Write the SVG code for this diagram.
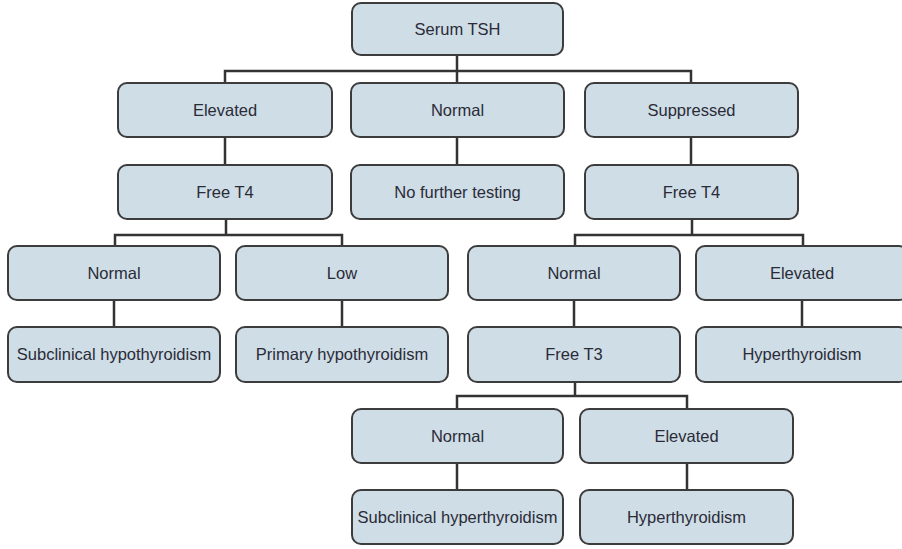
<svg xmlns="http://www.w3.org/2000/svg" width="902" height="549" viewBox="0 0 902 549">
<style>
.box{fill:#cedde6;stroke:#3c3c3c;stroke-width:2}
.lbl{font-family:"Liberation Sans",Arial,sans-serif;font-size:16.5px;fill:#2b2b38;text-anchor:middle}
.con{fill:none;stroke:#333;stroke-width:2.5}
</style>
<rect width="902" height="549" fill="#fff"/>
<g id="connectors">
<path class="con" d="M457,55V71M225,83V71H691V83M457,71V83"/>
<path class="con" d="M225,137V165M457,137V165M691,137V165"/>
<path class="con" d="M226,219V235M115,246V235H342V246"/>
<path class="con" d="M692,219V235M575,246V235H803V246"/>
<path class="con" d="M114,300V327M342,300V327M574,300V327M802,300V327"/>
<path class="con" d="M575,382V396M457,409V396H687V409"/>
<path class="con" d="M457,463V490M687,463V490"/>
</g>
<g id="n-tsh"><rect class="box" x="352" y="3" width="211" height="52" rx="9"/><text class="lbl" x="457.5" y="35">Serum TSH</text></g>
<g id="n-elev1"><rect class="box" x="118" y="83" width="214" height="54" rx="9"/><text class="lbl" x="225" y="116">Elevated</text></g>
<g id="n-norm1"><rect class="box" x="351" y="83" width="213" height="54" rx="9"/><text class="lbl" x="457.5" y="116">Normal</text></g>
<g id="n-supp1"><rect class="box" x="585" y="83" width="213" height="54" rx="9"/><text class="lbl" x="691.5" y="116">Suppressed</text></g>
<g id="n-ft4a"><rect class="box" x="118" y="165" width="214" height="54" rx="9"/><text class="lbl" x="225" y="198">Free T4</text></g>
<g id="n-nofurther"><rect class="box" x="351" y="165" width="213" height="54" rx="9"/><text class="lbl" x="457.5" y="198">No further testing</text></g>
<g id="n-ft4b"><rect class="box" x="585" y="165" width="213" height="54" rx="9"/><text class="lbl" x="691.5" y="198">Free T4</text></g>
<g id="n-norm2"><rect class="box" x="8" y="246" width="212" height="54" rx="9"/><text class="lbl" x="114" y="279">Normal</text></g>
<g id="n-low"><rect class="box" x="236" y="246" width="212" height="54" rx="9"/><text class="lbl" x="342" y="279">Low</text></g>
<g id="n-norm3"><rect class="box" x="468" y="246" width="212" height="54" rx="9"/><text class="lbl" x="574" y="279">Normal</text></g>
<g id="n-elev3"><rect class="box" x="696" y="246" width="212" height="54" rx="9"/><text class="lbl" x="802" y="279">Elevated</text></g>
<g id="n-subhypo"><rect class="box" x="8" y="327" width="212" height="55" rx="9"/><text class="lbl" x="114" y="360">Subclinical hypothyroidism</text></g>
<g id="n-primhypo"><rect class="box" x="236" y="327" width="212" height="55" rx="9"/><text class="lbl" x="342" y="360">Primary hypothyroidism</text></g>
<g id="n-ft3"><rect class="box" x="468" y="327" width="212" height="55" rx="9"/><text class="lbl" x="574" y="360">Free T3</text></g>
<g id="n-hyper1"><rect class="box" x="696" y="327" width="212" height="55" rx="9"/><text class="lbl" x="802" y="360">Hyperthyroidism</text></g>
<g id="n-norm4"><rect class="box" x="352" y="409" width="211" height="54" rx="9"/><text class="lbl" x="457.5" y="442">Normal</text></g>
<g id="n-elev4"><rect class="box" x="580" y="409" width="213" height="54" rx="9"/><text class="lbl" x="686.5" y="442">Elevated</text></g>
<g id="n-subhyper"><rect class="box" x="352" y="490" width="211" height="54" rx="9"/><text class="lbl" x="457.5" y="523">Subclinical hyperthyroidism</text></g>
<g id="n-hyper2"><rect class="box" x="580" y="490" width="213" height="54" rx="9"/><text class="lbl" x="686.5" y="523">Hyperthyroidism</text></g>
</svg>
